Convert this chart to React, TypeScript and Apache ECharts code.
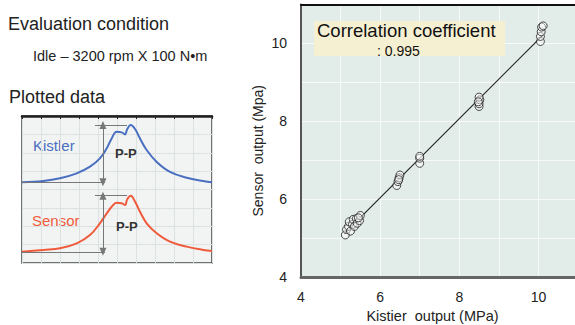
import React, { useEffect, useRef } from "react";
import * as echarts from "echarts";

// Main scatter: Kistler output vs Sensor output (MPa)
const kistlerOut = [
  5.12, 5.15, 5.2, 5.22, 5.25, 5.3, 5.32, 5.35, 5.4, 5.42, 5.48, 5.5, 5.45,
  6.42, 6.45, 6.48, 6.5, 6.47,
  7.0, 7.0, 7.0,
  8.5, 8.5, 8.52, 8.5, 8.48,
  10.05, 10.05, 10.07, 10.08, 10.12,
];
const sensorOut = [
  5.08, 5.22, 5.3, 5.42, 5.18, 5.35, 5.48, 5.3, 5.5, 5.38, 5.45, 5.58, 5.52,
  6.35, 6.45, 6.55, 6.62, 6.5,
  6.92, 7.05, 7.1,
  8.38, 8.45, 8.55, 8.62, 8.5,
  10.05, 10.18, 10.3, 10.42, 10.45,
];
const fitLineX = [5.1, 10.1];
const fitLineY = [5.12, 10.2];
const axisTicks = [4, 6, 8, 10];

// Inset waveforms (arbitrary units)
const waveX = [0, 1.12, 2.0, 2.88, 3.58, 4.1, 4.46, 4.72, 4.98, 5.25, 5.42, 5.54, 5.72, 5.95, 6.21, 6.56, 7.09, 7.79, 8.67, 9.54, 10];
const kistlerWave = [4.39, 4.46, 4.61, 4.88, 5.24, 5.69, 6.24, 6.78, 7.14, 7.11, 7.0, 7.29, 7.51, 7.29, 6.78, 6.15, 5.5, 4.96, 4.64, 4.46, 4.39];
const sensorWave = [0.61, 0.71, 0.8, 1.07, 1.52, 2.16, 2.7, 3.06, 3.28, 3.25, 3.16, 3.47, 3.66, 3.34, 2.79, 2.16, 1.62, 1.16, 0.89, 0.71, 0.65];

const correlation = "0.995";

const FONT = "'Liberation Sans', Arial, Helvetica, sans-serif";

function ppMarkLine(wave: number[]) {
  const base = wave[0];
  const peak = Math.max(...wave);
  const ax = 4.26;
  return {
    silent: true,
    animation: false,
    label: { show: false },
    lineStyle: { color: "#777", width: 1, type: "solid" },
    data: [
      [
        { coord: [ax, base], symbol: "triangle", symbolSize: [7, 8] },
        { coord: [ax, peak], symbol: "triangle", symbolSize: [7, 8] },
      ],
      [
        { coord: [3.84, peak], symbol: "none" },
        { coord: [5.53, peak], symbol: "none" },
      ],
      [
        { coord: [0, base], symbol: "none" },
        { coord: [4.37, base], symbol: "none" },
      ],
    ],
  };
}

export default function App() {
  const ref = useRef<HTMLDivElement>(null);
  useEffect(() => {
    if (!ref.current) return;
    const chart = echarts.init(ref.current, null, { renderer: "svg" });
    const scatterData = kistlerOut.map((x, i) => [x, sensorOut[i]]);
    const fitData = fitLineX.map((x, i) => [x, fitLineY[i]]);
    const kData = waveX.map((x, i) => [x, kistlerWave[i]]);
    const sData = waveX.map((x, i) => [x, sensorWave[i]]);
    const even = (v: number) => (axisTicks.includes(v) ? String(v) : "");

    chart.setOption({
      animation: false,
      textStyle: { fontFamily: FONT },
      grid: [
        {
          left: 301, top: 4.5, width: 277, height: 272.5,
          show: true, backgroundColor: "#e2ece8", borderWidth: 0,
          containLabel: false, outerBoundsMode: "none",
        },
        {
          left: 22, top: 116, width: 190, height: 147,
          show: true, backgroundColor: "#f1f4f3", borderColor: "#444", borderWidth: 1.5,
          containLabel: false, outerBoundsMode: "none",
        },
      ],
      xAxis: [
        {
          gridIndex: 0, type: "value", min: 4, max: 11, interval: 1,
          axisLine: { show: true, onZero: false, lineStyle: { color: "#666", width: 3 } },
          axisTick: { show: false },
          axisLabel: { formatter: even, color: "#222", fontSize: 14, margin: 13, fontFamily: FONT },
          splitLine: { show: true, lineStyle: { color: "rgba(255,255,255,0.75)", width: 1 } },
          name: "Kistier  output (MPa)", nameLocation: "middle", nameGap: 30,
          nameTextStyle: { color: "#222", fontSize: 14.5, padding: [0, 14, 0, 0], fontFamily: FONT },
        },
        {
          gridIndex: 0, type: "value", min: 4, max: 11, position: "top",
          axisLine: { show: true, lineStyle: { color: "#111", width: 2 } },
          axisTick: { show: false }, axisLabel: { show: false }, splitLine: { show: false },
        },
        {
          gridIndex: 1, type: "value", min: 0, max: 10, interval: 1,
          axisLine: { show: false }, axisTick: { show: false }, axisLabel: { show: false },
          splitLine: { show: true, lineStyle: { color: "#dce2df", width: 1 } },
        },
        {
          gridIndex: 1, type: "value", min: 0, max: 10, interval: 1, position: "top",
          axisLine: { show: true, lineStyle: { color: "#222", width: 2.5 } },
          axisTick: { show: true, inside: true, length: 3, lineStyle: { color: "#222" } },
          axisLabel: { show: false }, splitLine: { show: false },
        },
      ],
      yAxis: [
        {
          gridIndex: 0, type: "value", min: 4, max: 11, interval: 1,
          axisLine: { show: true, onZero: false, lineStyle: { color: "#555", width: 2 } },
          axisTick: { show: false },
          axisLabel: { formatter: even, color: "#222", fontSize: 14, margin: 14, fontFamily: FONT },
          splitLine: { show: true, lineStyle: { color: "rgba(255,255,255,0.75)", width: 1 } },
          name: "Sensor  output (Mpa)", nameLocation: "middle", nameGap: 36,
          nameTextStyle: { color: "#222", fontSize: 14, padding: [0, 20, 0, 0], fontFamily: FONT },
        },
        {
          gridIndex: 1, type: "value", min: 0, max: 8, interval: 1,
          axisLine: { show: false }, axisTick: { show: false }, axisLabel: { show: false },
          splitLine: { show: true, lineStyle: { color: "#dce2df", width: 1 } },
        },
      ],
      series: [
        {
          type: "line", xAxisIndex: 0, yAxisIndex: 0, data: fitData,
          symbol: "none", lineStyle: { color: "#222", width: 1.2 }, z: 2,
        },
        {
          type: "scatter", xAxisIndex: 0, yAxisIndex: 0, data: scatterData,
          symbol: "circle", symbolSize: 8,
          itemStyle: { color: "rgba(255,255,255,0.55)", borderColor: "#222", borderWidth: 1 },
          z: 3,
        },
        {
          type: "line", xAxisIndex: 2, yAxisIndex: 1, data: kData, smooth: 0.4,
          symbol: "none", lineStyle: { color: "#4a6fc0", width: 2 },
          markLine: ppMarkLine(kistlerWave),
        },
        {
          type: "line", xAxisIndex: 2, yAxisIndex: 1, data: sData, smooth: 0.4,
          symbol: "none", lineStyle: { color: "#f05a3c", width: 2 },
          markLine: ppMarkLine(sensorWave),
        },
      ],
      graphic: [
        { type: "text", left: 8, top: 15, style: { text: "Evaluation condition", font: `18px ${FONT}`, fill: "#222" } },
        { type: "text", left: 33, top: 48, style: { text: "Idle – 3200 rpm X 100 N•m", font: `14.5px ${FONT}`, fill: "#222" } },
        { type: "text", left: 9, top: 88, style: { text: "Plotted data", font: `18px ${FONT}`, fill: "#222" } },
        { type: "text", left: 33, top: 138, style: { text: "Kistler", font: `15px ${FONT}`, fill: "#4a6fc0" } },
        { type: "text", left: 32, top: 213, style: { text: "Sensor", font: `15px ${FONT}`, fill: "#f05a3c" } },
        { type: "text", left: 115, top: 147, style: { text: "P-P", font: `bold 13px ${FONT}`, fill: "#333" }, z: 20 },
        { type: "text", left: 116, top: 220, style: { text: "P-P", font: `bold 13px ${FONT}`, fill: "#333" }, z: 20 },
        { type: "rect", left: 314, top: 21, shape: { width: 191, height: 35 }, style: { fill: "#f6f0d3" }, z: 10 },
        { type: "text", left: 317, top: 21, style: { text: "Correlation coefficient", font: `18.5px ${FONT}`, fill: "#111" }, z: 11 },
        { type: "text", left: 377, top: 44, style: { text: ": " + correlation, font: `14px ${FONT}`, fill: "#111" }, z: 11 },
      ],
    });
    return () => chart.dispose();
  }, []);
  return <div ref={ref} style={{ position: "absolute", left: 0, top: 0, width: 575, height: 325 }} />;
}
